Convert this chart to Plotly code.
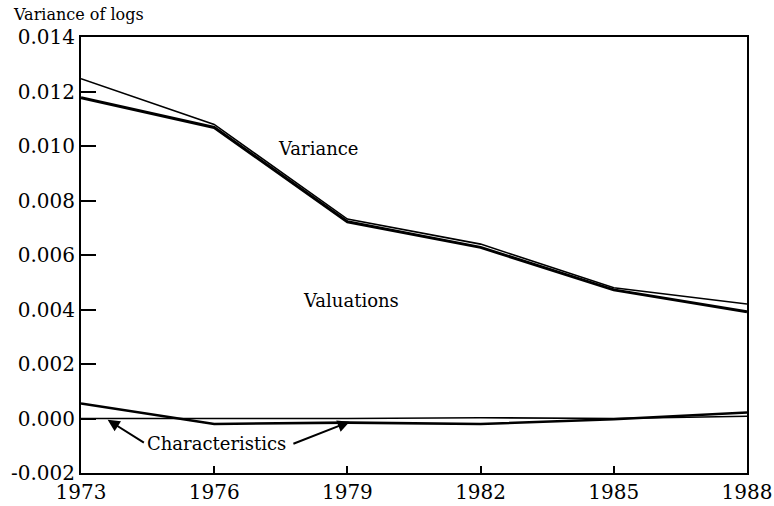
import plotly.graph_objects as go

years = [1973, 1976, 1979, 1982, 1985, 1988]
variance = [0.01247, 0.01079, 0.00732, 0.00640, 0.00480, 0.00420]
valuations = [0.01177, 0.01068, 0.00722, 0.00628, 0.00472, 0.00392]
char_a = [0.00055, -0.00020, -0.00015, -0.00020, -0.00003, 0.00022]
char_b = [0.00000, 0.00000, 0.00000, 0.00003, 0.00000, 0.00008]

y_ticks = [-0.002, 0.0, 0.002, 0.004, 0.006, 0.008, 0.010, 0.012, 0.014]
y_labels = ["-0.002", "0.000", "0.002", "0.004", "0.006", "0.008", "0.010", "0.012", "0.014"]

FONT = "DejaVu Serif, serif"

fig = go.Figure()
fig.add_trace(go.Scatter(x=years, y=variance, mode="lines", line=dict(color="black", width=1.6), showlegend=False))
fig.add_trace(go.Scatter(x=years, y=valuations, mode="lines", line=dict(color="black", width=3), showlegend=False))
fig.add_trace(go.Scatter(x=years, y=char_b, mode="lines", line=dict(color="black", width=1.6), showlegend=False))
fig.add_trace(go.Scatter(x=years, y=char_a, mode="lines", line=dict(color="black", width=2.6), showlegend=False))

fig.add_annotation(x=1977.4, y=0.0099, text="Variance", showarrow=False, xanchor="left",
                   font=dict(family=FONT, size=18, color="black"))
fig.add_annotation(x=1977.95, y=0.00432, text="Valuations", showarrow=False, xanchor="left",
                   font=dict(family=FONT, size=18, color="black"))
fig.add_annotation(x=1974.45, y=-0.00092, text="Characteristics", showarrow=False, xanchor="left",
                   font=dict(family=FONT, size=18, color="black"))
fig.add_annotation(x=1973.6, y=-0.00005, ax=1974.45, ay=-0.00092, axref="x", ayref="y",
                   text="", showarrow=True, arrowhead=2, arrowsize=1.2, arrowwidth=2, arrowcolor="black",
                   standoff=0)
fig.add_annotation(x=1979.05, y=-0.00012, ax=1977.75, ay=-0.00095, axref="x", ayref="y",
                   text="", showarrow=True, arrowhead=2, arrowsize=1.2, arrowwidth=2, arrowcolor="black",
                   standoff=0)
fig.add_annotation(x=0, y=1.0, xref="paper", yref="paper", xshift=-70, yshift=23,
                   text="Variance of logs", showarrow=False, xanchor="left", yanchor="middle",
                   font=dict(family=FONT, size=16, color="black"))

fig.update_xaxes(range=[1973, 1988], tickmode="array", tickvals=years, ticktext=[str(y) for y in years],
                 ticks="inside", ticklen=7, tickwidth=2, tickcolor="black",
                 showline=True, linewidth=2, linecolor="black", mirror=True,
                 showgrid=False, zeroline=False, automargin=False,
                 tickfont=dict(family=FONT, size=20, color="black"))
fig.update_yaxes(range=[-0.002, 0.014], tickmode="array", tickvals=y_ticks, ticktext=y_labels,
                 ticks="inside", ticklen=15, tickwidth=2, tickcolor="black",
                 showline=True, linewidth=2, linecolor="black", mirror=True,
                 showgrid=False, zeroline=False, automargin=False,
                 tickfont=dict(family=FONT, size=20, color="black"))

fig.update_layout(width=774, height=506, margin=dict(l=81, r=27, t=37, b=33),
                  plot_bgcolor="white", paper_bgcolor="white")

fig.write_html("out.html", config={"displayModeBar": False},
               post_script="document.body.style.margin='0';document.body.style.overflow='hidden';")
